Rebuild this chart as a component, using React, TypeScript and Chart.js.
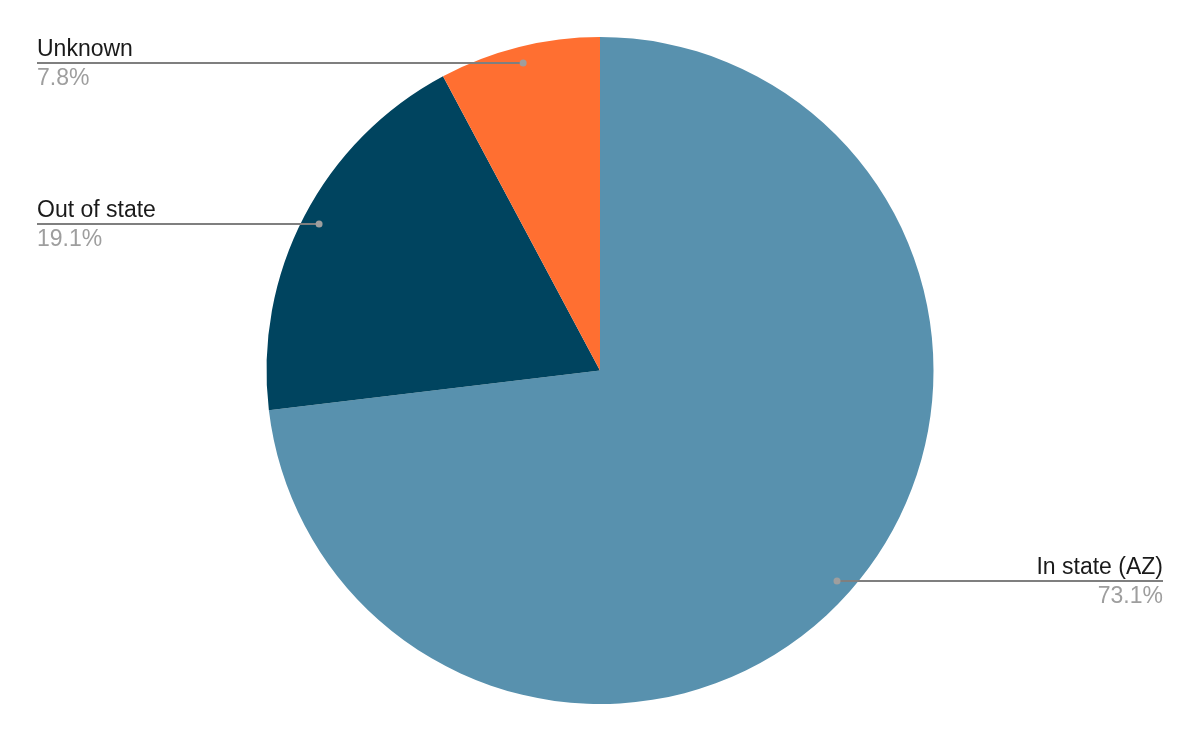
import React, { useEffect, useRef } from "react";
import { Chart, registerables } from "chart.js";

Chart.register(...registerables);

const categories = ["In state (AZ)", "Out of state", "Unknown"];
const values = [73.1, 19.1, 7.8];
const percentLabels = ["73.1%", "19.1%", "7.8%"];
const colors = ["#5891AE", "#00445F", "#FF6F31"];

const FONT = "'Liberation Sans', Arial, sans-serif";

const leaderPlugin = {
  id: "leaderLabels",
  afterDraw(chart: any) {
    const ctx = chart.ctx;
    const meta = chart.getDatasetMeta(0);
    const leftX = 37;
    const rightX = 1163;
    ctx.save();
    meta.data.forEach((arc: any, i: number) => {
      const mid = (arc.startAngle + arc.endAngle) / 2;
      const r = arc.outerRadius * 0.95;
      const px = arc.x + Math.cos(mid) * r;
      const py = Math.round(arc.y + Math.sin(mid) * r);
      const onRight = Math.cos(mid) > 0;
      const endX = onRight ? rightX : leftX;
      ctx.strokeStyle = "#7f7f7f";
      ctx.lineWidth = 2;
      ctx.beginPath();
      ctx.moveTo(px, py);
      ctx.lineTo(endX, py);
      ctx.stroke();
      ctx.fillStyle = "#9e9e9e";
      ctx.beginPath();
      ctx.arc(px, py, 3.5, 0, Math.PI * 2);
      ctx.fill();
      ctx.font = `23px ${FONT}`;
      ctx.textAlign = onRight ? "right" : "left";
      ctx.textBaseline = "alphabetic";
      ctx.fillStyle = "#1a1a1a";
      ctx.fillText(categories[i], endX, py - 7);
      ctx.fillStyle = "#9e9e9e";
      ctx.fillText(percentLabels[i], endX, py + 22);
    });
    ctx.restore();
  },
};

export default function App() {
  const ref = useRef<HTMLCanvasElement | null>(null);
  useEffect(() => {
    document.body.style.margin = "0";
    if (!ref.current) return;
    const chart = new Chart(ref.current, {
      type: "pie",
      data: {
        labels: categories,
        datasets: [
          {
            data: values,
            backgroundColor: colors,
            borderWidth: 0,
          },
        ],
      },
      options: {
        animation: false,
        responsive: false,
        maintainAspectRatio: false,
        layout: { padding: { top: 37, bottom: 38, left: 0, right: 0 } },
        plugins: {
          legend: { display: false },
          tooltip: { enabled: false },
        },
      },
      plugins: [leaderPlugin],
    });
    return () => chart.destroy();
  }, []);
  return (
    <div style={{ position: "absolute", left: 0, top: 0, width: 1200, height: 742, background: "#fff" }}>
      <canvas ref={ref} width={1200} height={742} style={{ width: 1200, height: 742 }} />
    </div>
  );
}
